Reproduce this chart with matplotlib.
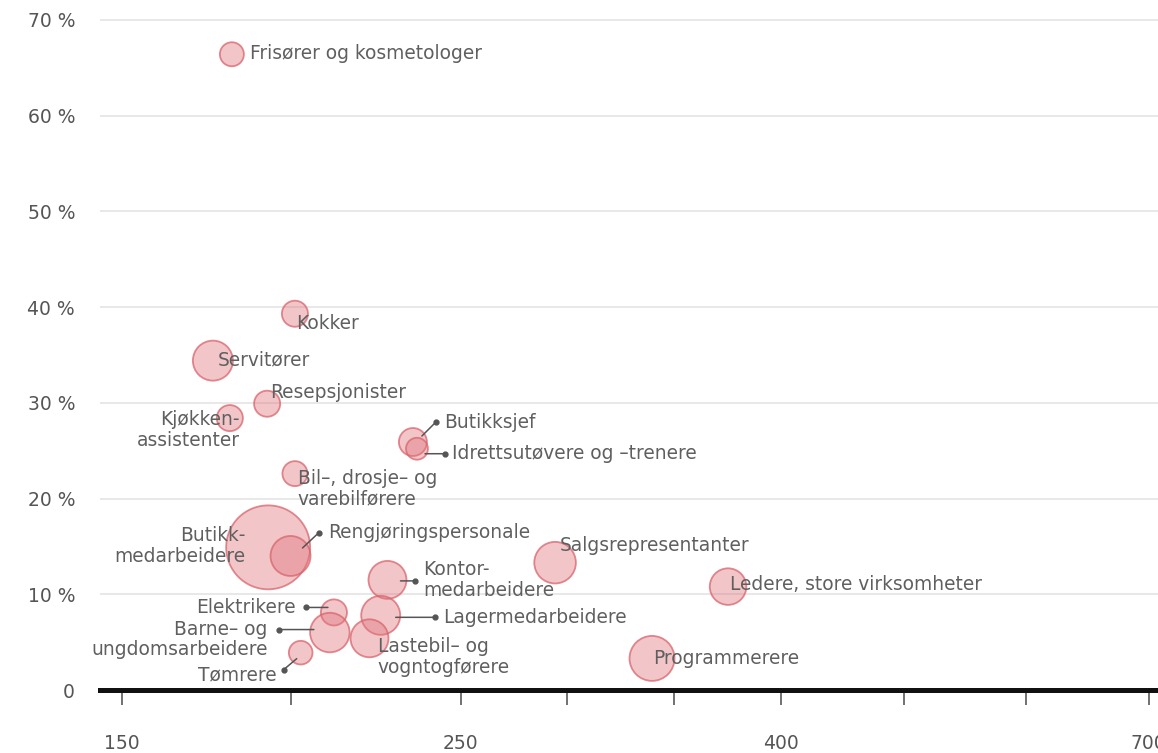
import numpy as np
import matplotlib
matplotlib.use("Agg")
import matplotlib.pyplot as plt
from matplotlib.colors import to_rgba
from matplotlib.transforms import offset_copy

# occupations: median income (1000 kr), share of workers (%), employed (1000)
occupations = ["Frisører og kosmetologer", "Kokker", "Servitører", "Resepsjonister",
               "Kjøkkenassistenter", "Butikksjef", "Idrettsutøvere og -trenere",
               "Bil-, drosje- og varebilførere", "Butikkmedarbeidere", "Rengjøringspersonale",
               "Kontormedarbeidere", "Elektrikere", "Lagermedarbeidere",
               "Barne- og ungdomsarbeidere", "Lastebil- og vogntogførere", "Tømrere",
               "Salgsrepresentanter", "Ledere, store virksomheter", "Programmerere"]
income = [182.5, 201.1, 176.9, 192.9, 181.9, 235.9, 237.1, 201.1, 193.2, 199.8,
          228.4, 212.6, 226.4, 211.4, 223.1, 202.8, 294.2, 375.2, 339.6]
share = [66.4, 39.3, 34.4, 29.9, 28.4, 25.9, 25.2, 22.6, 14.9, 14.0,
         11.5, 8.1, 7.8, 6.0, 5.4, 3.9, 13.3, 10.8, 3.3]
employed = [7.2, 8.5, 20, 8.5, 8.5, 9.8, 6, 7.8, 88, 20,
            18, 8.5, 19, 19.5, 18, 7, 21.6, 16.7, 25.3]

x_ticks = [150, 200, 250, 300, 350, 400, 500, 600, 700]
x_labels = {150: "150", 250: "250", 400: "400", 700: "700"}
y_ticks = [0, 10, 20, 30, 40, 50, 60, 70]

# label layout: text, ha, offset (px), optional leader (dot offset, end offset)
layout = {
    "Frisører og kosmetologer": ("Frisører og kosmetologer", "left", (18, 1), None),
    "Kokker": ("Kokker", "left", (1, -10), None),
    "Servitører": ("Servitører", "left", (5, 1), None),
    "Resepsjonister": ("Resepsjonister", "left", (3, 11), None),
    "Kjøkkenassistenter": ("Kjøkken-\nassistenter", "right", (10, -12), None),
    "Butikksjef": ("Butikksjef", "left", (31, 20), ((23, 20), (9, 6))),
    "Idrettsutøvere og -trenere": ("Idrettsutøvere og –trenere", "left", (35, -5), ((28, -5), (8, -5))),
    "Bil-, drosje- og varebilførere": ("Bil–, drosje– og\nvarebilførere", "left", (3, -15), None),
    "Butikkmedarbeidere": ("Butikk-\nmedarbeidere", "right", (-23, 1), None),
    "Rengjøringspersonale": ("Rengjøringspersonale", "left", (38, 23), ((28, 23), (12, 8))),
    "Kontormedarbeidere": ("Kontor-\nmedarbeidere", "left", (36, 0), ((28, -1), (13, -1))),
    "Elektrikere": ("Elektrikere", "right", (-38, 5), ((-28, 5), (-6, 5))),
    "Lagermedarbeidere": ("Lagermedarbeidere", "left", (62, -2), ((54, -2), (15, -2))),
    "Barne- og ungdomsarbeidere": ("Barne– og\nungdomsarbeidere", "right", (-62, -7), ((-51, 3), (-16, 3))),
    "Lastebil- og vogntogførere": ("Lastebil– og\nvogntogførere", "left", (8, -19), None),
    "Tømrere": ("Tømrere", "right", (-24, -22), ((-17, -17), (-4, -6))),
    "Salgsrepresentanter": ("Salgsrepresentanter", "left", (5, 17), None),
    "Ledere, store virksomheter": ("Ledere, store virksomheter", "left", (2, 2), None),
    "Programmerere": ("Programmerere", "left", (1, 0), None),
}

# piecewise linear x axis (150-250, 250-400, 400-700 have own widths)
bp_val = [0, 150, 250, 400, 700, 2000]
bp_px = [-386.8, 121.7, 460.7, 781.0, 1148.7, 2742.1]


def fwd(v):
    return np.interp(v, bp_val, bp_px)


def inv(p):
    return np.interp(p, bp_px, bp_val)


TEXT = "#5f5f5f"
LEAD = "#555555"

fig = plt.figure(figsize=(11.58, 7.53), dpi=100)
ax = fig.add_axes([100 / 1158, 63 / 753, 1058 / 1158, 675 / 753])
ax.set_xscale("function", functions=(fwd, inv))
ax.set_xlim(inv(100), inv(1158))
ax.set_ylim(0, 70.5)

ax.scatter(income, share, s=np.array(employed) * 41.5,
           facecolor=to_rgba("#e0757c", 0.42), edgecolor=to_rgba("#d8646c", 0.75),
           linewidth=1.3, zorder=3)

for name, x, y in zip(occupations, income, share):
    text, ha, (dx, dy), lead = layout[name]
    ax.annotate(text, (x, y), xytext=(dx, dy), textcoords="offset pixels",
                ha=ha, va="center", multialignment=ha, linespacing=1.12,
                fontsize=13.4, color=TEXT, zorder=5)
    if lead:
        (ddx, ddy), (ex, ey) = lead
        ax.annotate("", xy=(x, y),
                    xycoords=offset_copy(ax.transData, fig=fig, x=ex, y=ey, units="dots"),
                    xytext=(x, y),
                    textcoords=offset_copy(ax.transData, fig=fig, x=ddx, y=ddy, units="dots"),
                    arrowprops=dict(arrowstyle="-", color=LEAD, lw=1.1, shrinkA=0, shrinkB=0),
                    zorder=4)
        ax.plot([x], [y], "o", ms=3.5, color=LEAD, zorder=4,
                transform=offset_copy(ax.transData, fig=fig, x=ddx, y=ddy, units="dots"))

ax.set_yticks(y_ticks)
ax.set_yticklabels(["0"] + [f"{t} %" for t in y_ticks[1:]])
ax.set_xticks(x_ticks)
ax.set_xticklabels([x_labels.get(t, "") for t in x_ticks])
ax.tick_params(axis="y", length=0, pad=18, labelsize=13.5, labelcolor="#555555")
ax.tick_params(axis="x", length=11, width=1.3, color="#666666", pad=21,
               labelsize=13.5, labelcolor="#555555")
ax.grid(axis="y", color="#e4e4e4", lw=1.2)
ax.set_axisbelow(True)
for side in ["top", "right", "left"]:
    ax.spines[side].set_visible(False)
ax.spines["bottom"].set_linewidth(3.6)
ax.spines["bottom"].set_color("#111111")
ax.spines["bottom"].set_zorder(6)
ax.minorticks_off()

fig.savefig("out.png", dpi=100)
